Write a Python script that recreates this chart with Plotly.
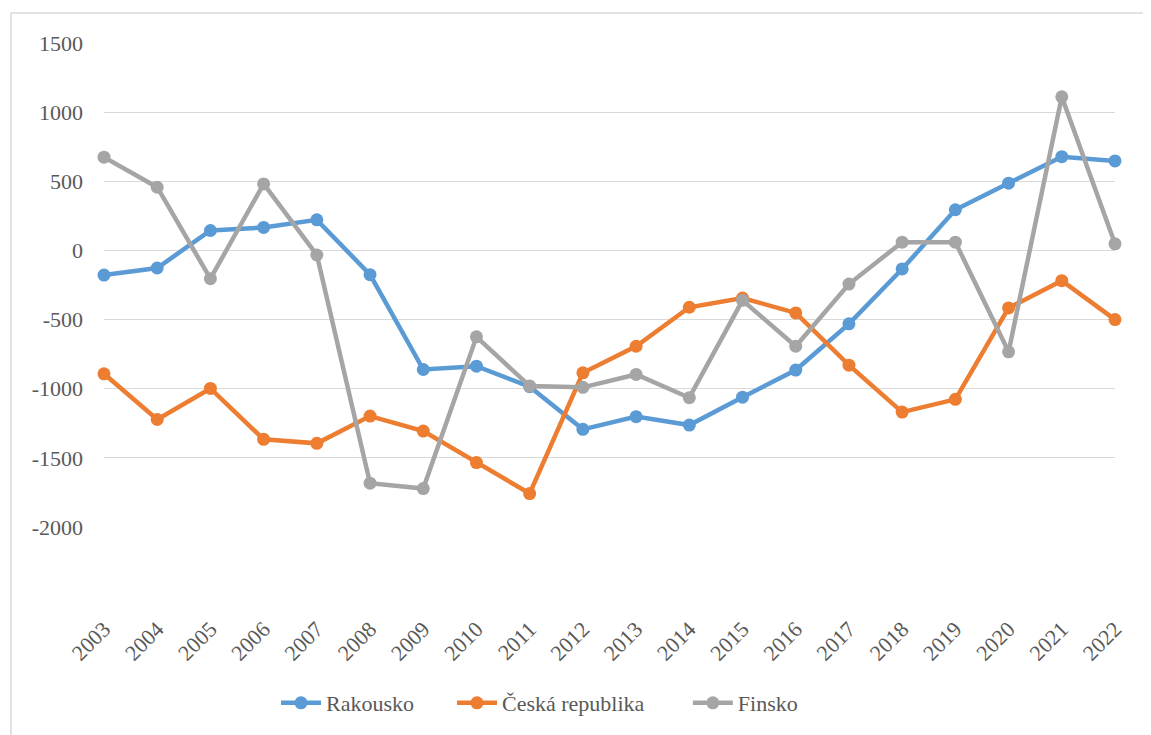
import plotly.graph_objects as go

# data
years = list(range(2003, 2023))
rakousko = [-178, -127, 144, 166, 221, -175, -861, -837, -985, -1294,
            -1202, -1263, -1061, -865, -531, -134, 294, 486, 678, 647]
ceska = [-892, -1222, -998, -1366, -1395, -1198, -1306, -1534, -1758, -885,
         -693, -411, -344, -452, -830, -1169, -1077, -416, -219, -500]
finsko = [674, 457, -204, 481, -33, -1683, -1722, -625, -981, -990,
          -897, -1065, -361, -693, -243, 60, 60, -733, 1111, 48]
y_ticks = [1500, 1000, 500, 0, -500, -1000, -1500, -2000]

# (name, values, colour, extra legend spacing in nbsp)
series = [
    ("Rakousko", rakousko, "#5B9BD5", 6),
    ("Česká republika", ceska, "#ED7D31", 7),
    ("Finsko", finsko, "#A5A5A5", 0),
]

FONT = "Liberation Serif, Times New Roman, serif"
TEXT = "#595959"

fig = go.Figure()
for name, vals, color, pad in series:
    fig.add_trace(go.Scatter(
        x=years, y=vals, name=name + "\u00a0" * pad, mode="lines+markers",
        line=dict(color=color, width=4.5),
        marker=dict(color=color, size=13),
        cliponaxis=False,
    ))

# page body has an 8px margin, so everything is shifted by that
OFF = 8
W, H = 1151 - OFF, 735 - OFF
L, T = 104 - OFF, 43 - OFF
R = W - (1115 - OFF)
B = H - (528 - OFF)
pw, ph = W - L - R, H - T - B

fig.update_layout(
    width=W, height=H,
    margin=dict(l=L, r=R, t=T, b=B),
    paper_bgcolor="white", plot_bgcolor="white",
    font=dict(family=FONT, size=22, color=TEXT),
    showlegend=True,
    legend=dict(
        orientation="h", x=(276 - 104) / pw, xanchor="left",
        y=(528 - 703) / ph, yanchor="middle",
        font=dict(family=FONT, size=22, color=TEXT),
        itemwidth=40, tracegroupgap=0,
    ),
)
fig.update_xaxes(
    range=[2003, 2022], tickmode="array", tickvals=years,
    ticktext=[str(y) for y in years], tickangle=-45,
    showgrid=False, zeroline=False, showline=False, ticks="",
    ticklabelstandoff=84,
)
fig.update_yaxes(
    range=[-2000, 1500], tickmode="array", tickvals=y_ticks,
    ticktext=[str(v) for v in y_ticks],
    gridcolor="#D9D9D9", gridwidth=1.3, zeroline=False, showline=False,
    ticks="", ticklabelstandoff=20,
)

# chart border like the original: only left and top edges are visible
bx0 = (11 - 104) / pw
by1 = (528 - 13) / ph
for x0, x1, y0, y1 in [(bx0, bx0, -1.0, by1), (bx0, 1.2, by1, by1)]:
    fig.add_shape(
        type="line", xref="paper", yref="paper",
        x0=x0, x1=x1, y0=y0, y1=y1,
        line=dict(color="#D9D9D9", width=1.5), layer="below",
    )

fig.write_html("out.html")
